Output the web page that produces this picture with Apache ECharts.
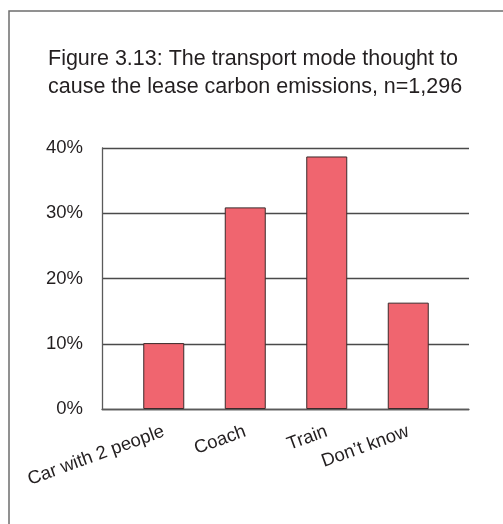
<!DOCTYPE html>
<html><head><meta charset="utf-8">
<script src="https://cdn.jsdelivr.net/npm/echarts@6/dist/echarts.min.js"></script>
<style>html,body{margin:0;padding:0;background:#fff}#c{width:503px;height:524px}</style>
</head><body><div id="c"></div>
<script>
var titleText = 'Figure 3.13: The transport mode thought to\ncause the lease carbon emissions, n=1,296';
var categories = ['Car with 2 people', 'Coach', 'Train', 'Don\u2019t know'];
var values = [10.1, 30.9, 38.7, 16.3];
var yTicks = [0, 10, 20, 30, 40];

var chart = echarts.init(document.getElementById('c'), null, {renderer: 'canvas'});
var font = 'Liberation Sans, Arial, sans-serif';
chart.setOption({
  animation: false,
  backgroundColor: '#fff',
  title: {
    text: titleText, left: 43, top: 40,
    textStyle: {fontFamily: font, fontSize: 21.5, fontWeight: 'normal', color: '#231f20', lineHeight: 28}
  },
  graphic: [{
    type: 'polyline', silent: true,
    shape: {points: [[9, 530], [9, 11], [510, 11]]},
    style: {stroke: '#6d6d6d', lineWidth: 1.5, fill: null}
  }],
  grid: [
    {left: 102, right: 34, top: 148, bottom: 115},
    {left: 123, right: 54, top: 148, bottom: 115}
  ],
  xAxis: [
    {gridIndex: 0, type: 'category', data: categories, show: true,
     axisLine: {show: true, lineStyle: {color: '#5a5a5a', width: 1.3}},
     axisTick: {show: false}, axisLabel: {show: false}, splitLine: {show: false}},
    {gridIndex: 1, type: 'category', data: categories,
     axisLine: {show: false}, axisTick: {show: false},
     axisLabel: {rotate: 20, margin: 22, interval: 0, fontFamily: font, fontSize: 18.5, color: '#231f20'}}
  ],
  yAxis: [
    {gridIndex: 0, type: 'value', min: yTicks[0], max: yTicks[yTicks.length - 1], interval: 10,
     axisLine: {show: true, lineStyle: {color: '#5a5a5a', width: 1.3}},
     axisTick: {show: false},
     axisLabel: {formatter: '{value}%', margin: 19, fontFamily: font, fontSize: 18.5, color: '#231f20'},
     splitLine: {show: true, lineStyle: {color: '#4a4a4a', width: 1.3}}},
    {gridIndex: 1, type: 'value', min: yTicks[0], max: yTicks[yTicks.length - 1], interval: 10, show: false,
     splitLine: {show: false}}
  ],
  series: [{
    type: 'bar', xAxisIndex: 1, yAxisIndex: 1, data: values, barWidth: 41,
    itemStyle: {color: '#f0656f', borderColor: '#3b2a2b', borderWidth: 1}
  }]
});
</script></body></html>
